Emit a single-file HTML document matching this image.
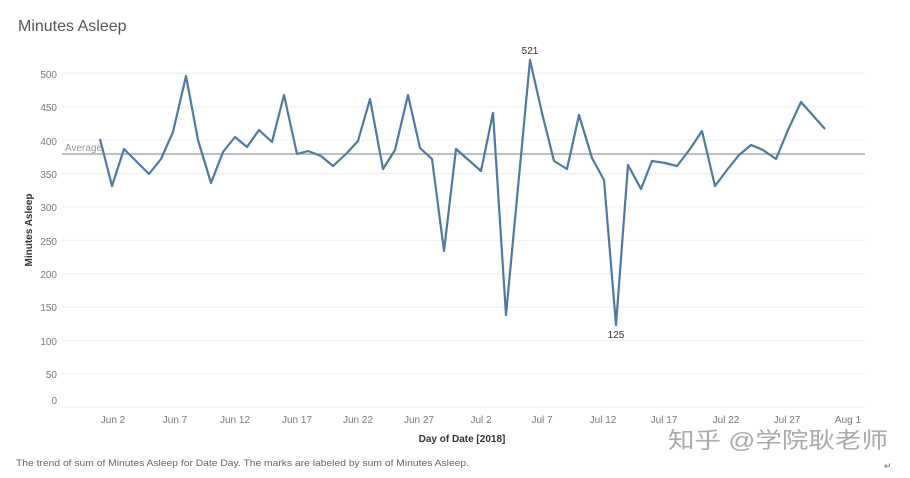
<!DOCTYPE html>
<html><head><meta charset="utf-8"><style>
html,body{margin:0;padding:0;background:#fff;}
svg{display:block;font-family:"Liberation Sans","Noto Sans CJK SC",sans-serif;}
</style></head><body>
<svg width="910" height="478" viewBox="0 0 910 478">
<text x="18" y="31" font-size="16" fill="#555">Minutes Asleep</text>
<g stroke="#efefef" stroke-width="1">
<line x1="62" x2="865" y1="73.3" y2="73.3"/>
<line x1="62" x2="865" y1="106.7" y2="106.7"/>
<line x1="62" x2="865" y1="140.1" y2="140.1"/>
<line x1="62" x2="865" y1="173.5" y2="173.5"/>
<line x1="62" x2="865" y1="206.9" y2="206.9"/>
<line x1="62" x2="865" y1="240.3" y2="240.3"/>
<line x1="62" x2="865" y1="273.7" y2="273.7"/>
<line x1="62" x2="865" y1="307.1" y2="307.1"/>
<line x1="62" x2="865" y1="340.5" y2="340.5"/>
<line x1="62" x2="865" y1="373.9" y2="373.9"/>
<line x1="62" x2="865" y1="407.3" y2="407.3"/>
</g>
<g font-size="10" fill="#777" text-anchor="end">
<text x="57" y="78">500</text><text x="57" y="111">450</text><text x="57" y="145">400</text>
<text x="57" y="178">350</text><text x="57" y="211">300</text><text x="57" y="245">250</text>
<text x="57" y="278">200</text><text x="57" y="311">150</text><text x="57" y="345">100</text>
<text x="57" y="378">50</text><text x="57" y="404">0</text>
</g>
<text transform="translate(32,230) rotate(-90)" font-size="10" font-weight="bold" fill="#333" text-anchor="middle">Minutes Asleep</text>
<g font-size="10" fill="#777" text-anchor="middle">
<text x="113" y="423">Jun 2</text><text x="175" y="423">Jun 7</text><text x="235" y="423">Jun 12</text>
<text x="297" y="423">Jun 17</text><text x="358" y="423">Jun 22</text><text x="419" y="423">Jun 27</text>
<text x="481" y="423">Jul 2</text><text x="542" y="423">Jul 7</text><text x="603" y="423">Jul 12</text>
<text x="664" y="423">Jul 17</text><text x="726" y="423">Jul 22</text><text x="787" y="423">Jul 27</text>
<text x="848" y="423">Aug 1</text>
</g>
<text x="462" y="442" font-size="10" font-weight="bold" fill="#333" text-anchor="middle">Day of Date [2018]</text>
<line x1="62" x2="865" y1="154" y2="154" stroke="#999" stroke-width="1.3"/>
<text x="65" y="151" font-size="10" fill="#999">Average</text>
<polyline fill="none" stroke="#4e79a7" stroke-width="2.2" stroke-linejoin="round" points="100,139 112,186 124,149 137,162 149,174 161,159 173,132 186,76 198,140 211,183 223,152 235,137 247,147 259,130 272,142 284,95 297,154 308,151 321,156 333,166 346,154 358,141 370,99 383,169 395,150 408,95 420,148 432,159 444,251 456,149 481,171 493,113 506,315 530,60 542,113 554,161 567,169 579,115 592,158 604,180 616,325 628,165 641,189 652,161 665,163 677,166 690,149 702,131 715,186 727,170 739,155 751,145 763,150 776,159 788,130 801,102 825,129"/>
<text x="530" y="54" font-size="10" fill="#333" text-anchor="middle">521</text>
<text x="616" y="338" font-size="10" fill="#333" text-anchor="middle">125</text>
<text x="16" y="466" font-size="9.5" fill="#666" textLength="453" lengthAdjust="spacingAndGlyphs">The trend of sum of Minutes Asleep for Date Day.  The marks are labeled by sum of Minutes Asleep.</text>
<text x="668" y="448" font-size="22" fill="#aaa" textLength="220" lengthAdjust="spacingAndGlyphs">知乎 @学院耿老师</text>
<text x="884" y="469" font-size="9" fill="#666">↵</text>
</svg>
</body></html>
